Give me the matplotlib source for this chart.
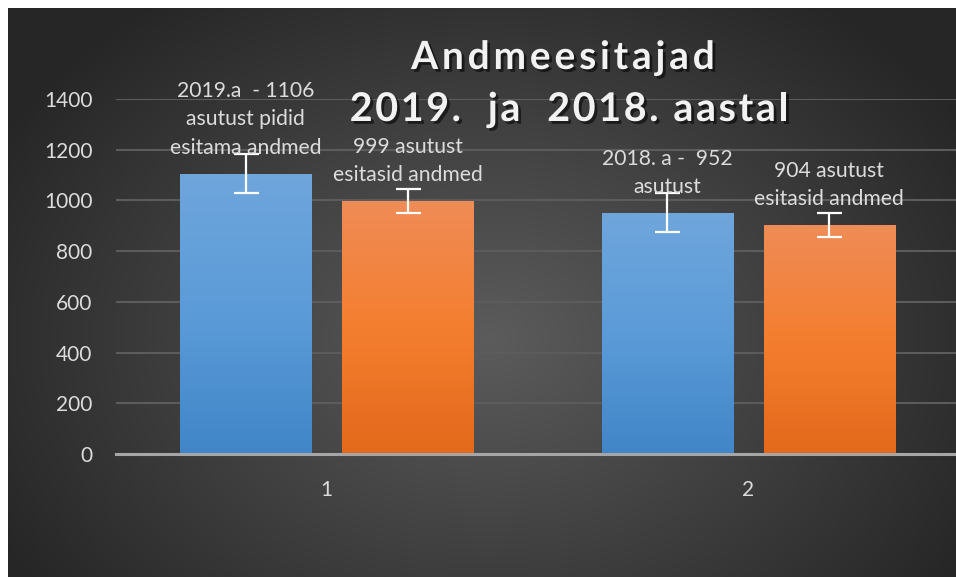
import numpy as np
import matplotlib
matplotlib.use("Agg")
import matplotlib.pyplot as plt
import matplotlib.patheffects as pe
from matplotlib.colors import LinearSegmentedColormap

# data
categories = [1, 2]
series_a = [1106, 952]      # blue
series_b = [999, 904]       # orange
err_a = [77, 77]
err_b = [48, 48]
labels_a = ["2019.a  - 1106\nasutust pidid\nesitama andmed", "2018. a -  952\nasutust"]
labels_b = ["999 asutust\nesitasid andmed", "904 asutust\nesitasid andmed"]
yticks = [0, 200, 400, 600, 800, 1000, 1200, 1400]
title_lines = ["Andmeesitajad", "2019.  ja  2018. aastal"]

plt.rcParams['font.family'] = ['Lato', 'DejaVu Sans']
W, H = 956, 577
fig = plt.figure(figsize=(W / 100, H / 100), dpi=100, facecolor='white')

# radial gradient background panel
bg = fig.add_axes([8 / W, 0, (W - 8) / W, (H - 8) / H])
bg.set_axis_off()
yy, xx = np.mgrid[0:H - 8, 0:W - 8]
cx, cy = 480, 330
r = np.sqrt(((xx - cx) / 560.0) ** 2 + ((yy - cy) / 420.0) ** 2)
val = np.clip(0.36 - 0.21 * r, 0.15, 0.36)
bg.imshow(np.dstack([val, val, val]), aspect='auto', extent=(0, 1, 0, 1), origin='upper')
bg.set_xlim(0, 1)
bg.set_ylim(0, 1)

# main axes
x0, x1 = 116, 956
y0, y1 = 454, 99
ax = fig.add_axes([x0 / W, (H - y0) / H, (x1 - x0) / W, (y0 - y1) / H])
ax.patch.set_alpha(0)
ppu = 421.5
ax.set_xlim(0.5, 0.5 + (x1 - x0) / ppu)
ax.set_ylim(0, 1400)

x = np.array(categories, dtype=float)
w = 0.311
off = 0.192
ca = LinearSegmentedColormap.from_list('a', ['#4186c8', '#5b9bd8', '#6fa6dc'])
cb = LinearSegmentedColormap.from_list('b', ['#e3691b', '#f47e2f', '#ef8c57'])

for vals, errs, shift, cmap, mid in [(series_a, err_a, -off, ca, '#5b9bd5'),
                                      (series_b, err_b, off, cb, '#ed7d31')]:
    bars = ax.bar(x + shift, vals, width=w, color=mid, zorder=3,
                  path_effects=[pe.SimplePatchShadow(offset=(0, -1), shadow_rgbFace='black', alpha=0.5, rho=0.3),
                                pe.Normal()])
    for b in bars:
        bx, by = b.get_x(), b.get_y()
        bw, bh = b.get_width(), b.get_height()
        grad = np.linspace(0, 1, 256).reshape(-1, 1)
        im = ax.imshow(grad, cmap=cmap, aspect='auto', origin='lower',
                       extent=(bx, bx + bw, by, by + bh), zorder=3.5,
                       vmin=0, vmax=1)
        im.set_clip_path(b)
    ax.errorbar(x + shift, vals, yerr=errs, fmt='none', ecolor='white',
                elinewidth=1.6, capsize=9, capthick=1.6, zorder=5)

txtcol = '#dcdcdc'
for xs, vals, labs in [(x - off, series_a, labels_a), (x + off, series_b, labels_b)]:
    for xi, v, lab in zip(xs, vals, labs):
        ax.annotate(lab, (xi, v), xytext=(0, 11), textcoords='offset points',
                    ha='center', va='bottom', color=txtcol, fontsize=15.2,
                    linespacing=1.55, zorder=6, annotation_clip=False)

ax.set_yticks(yticks)
ax.set_xticks(categories)
ax.set_xticklabels([str(c) for c in categories])
ax.tick_params(axis='both', length=0, colors=txtcol, labelsize=15)
ax.tick_params(axis='y', pad=17)
ax.tick_params(axis='x', pad=19)
ax.grid(axis='y', color='#5c5c5c', linewidth=1.5, zorder=0)
for s in ['top', 'right', 'left']:
    ax.spines[s].set_visible(False)
ax.spines['bottom'].set_color('#a6a6a6')
ax.spines['bottom'].set_linewidth(2.2)
ax.spines['bottom'].set_zorder(4)

# title with letter spacing
shadow = [pe.withSimplePatchShadow(offset=(2, -2), shadow_rgbFace='black', alpha=0.55)]
renderer = fig.canvas.get_renderer()


def text_width(s, **kw):
    t = fig.text(0, 0, s, **kw)
    wpx = t.get_window_extent(renderer).width
    t.remove()
    return wpx


def tracked_text(s, xc, ybase, track, **kw):
    bar = text_width('|', **kw)
    adv = [text_width(s[:i] + '|', **kw) - bar for i in range(len(s))]
    total = text_width(s, **kw) + track * (len(s) - 1)
    start = xc - total / 2
    for i, ch in enumerate(s):
        if ch == ' ':
            continue
        fig.text((start + adv[i] + track * i) / W, 1 - ybase / H, ch,
                 ha='left', va='baseline', **kw)


tkw = dict(color='#f2f2f2', fontweight='bold', path_effects=shadow)
tracked_text(title_lines[0], 563, 69, 3.8, fontsize=28, **tkw)
tracked_text(title_lines[1], 569, 121, 2.5, fontsize=28.5, **tkw)

fig.savefig('out.png', dpi=100, facecolor='white')
